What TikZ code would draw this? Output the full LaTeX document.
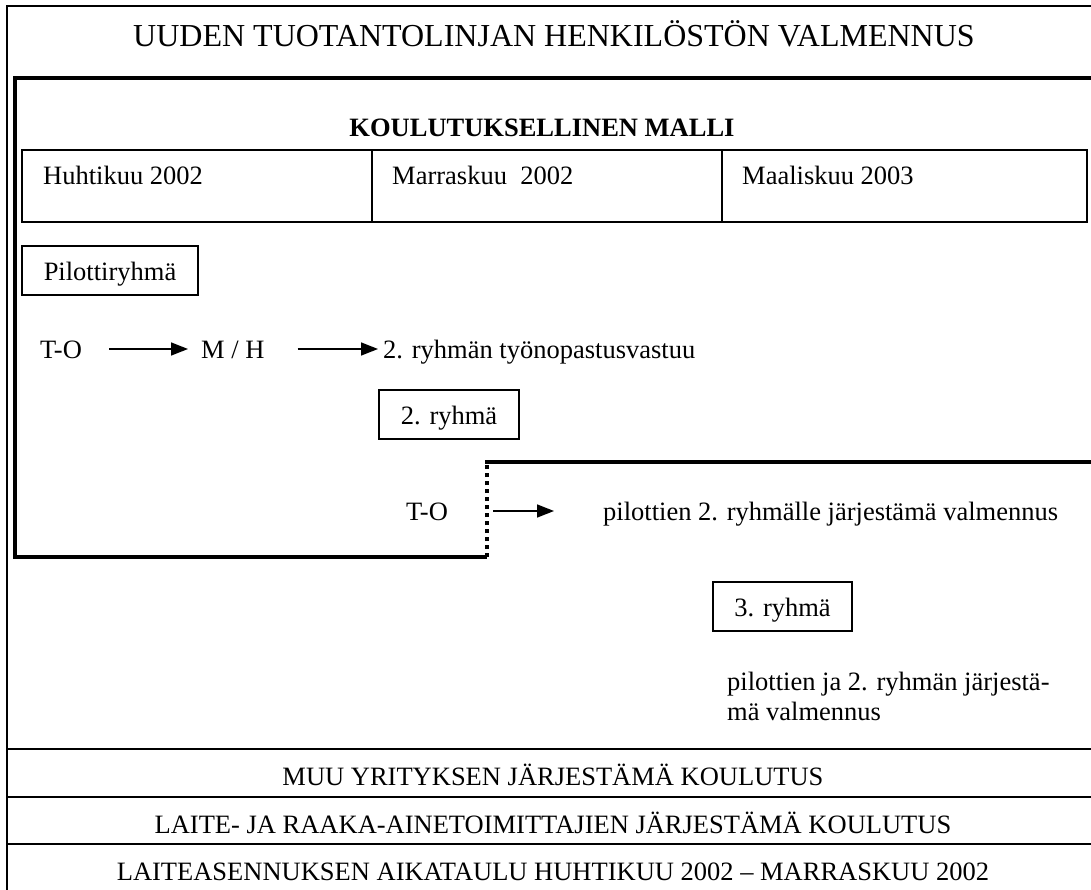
\documentclass[tikz,border=0pt]{standalone}
\usepackage{fontspec}
\setmainfont{Liberation Serif}
\usetikzlibrary{arrows.meta}
\begin{document}
\begin{tikzpicture}[x=1pt,y=-1pt,
  body/.style={font=\fontsize{26.5}{30}\selectfont, inner sep=0pt},
  boldbody/.style={font=\fontsize{26.5}{30}\selectfont\bfseries, inner sep=0pt},
  titlefont/.style={font=\fontsize{32}{36}\selectfont, inner sep=0pt},
  frameline/.style={line width=1.6pt},
  tableline/.style={line width=1.4pt},
  heavyline/.style={line width=4pt, line join=miter},
  dotline/.style={line width=4pt, dash pattern=on 4pt off 4pt},
  groupbox/.style={body, draw, line width=1.5pt, text height=20pt, text depth=0pt},
  flow/.style={line width=1.5pt, -{Triangle[length=17pt,width=13pt]}}]

\useasboundingbox (0,0) rectangle (1091,890);

% outer frame and the three bottom bands
\draw[frameline] (1095,6) -- (7,6) -- (7,892);
\draw[frameline] (7,749) -- (1095,749);
\draw[frameline] (7,797) -- (1095,797);
\draw[frameline] (7,844) -- (1095,844);

\node[titlefont, anchor=base] (title) at (554,47) {UUDEN TUOTANTOLINJAN HENKILÖSTÖN VALMENNUS};

% heavy outline of the training model, with its dotted step
\draw[heavyline] (1095,78) -- (15,78) -- (15,557) -- (487,557);
\draw[dotline] (487,557) -- (487,463);
\draw[heavyline] (485,462) -- (1095,462);

\node[boldbody, anchor=base] (model) at (542,137) {KOULUTUKSELLINEN MALLI};

% timeline table
\draw[tableline] (22,150) rectangle (1087,222);
\draw[tableline] (372,150) -- (372,222);
\draw[tableline] (722,150) -- (722,222);
\node[body, anchor=base west] (apr) at (43,185) {Huhtikuu 2002};
\node[body, anchor=base west] (nov) at (392,185) {Marraskuu\ \ 2002};
\node[body, anchor=base west] (mar) at (742,185) {Maaliskuu 2003};

% pilot group
\node[groupbox, minimum width=176pt, minimum height=49pt] (pilot) at (110,270.5) {Pilottiryhmä};
\node[body, anchor=base west] (to1) at (40,358) {T-O};
\node[body, anchor=base west] (mh) at (201,358) {M / H};
\node[body, anchor=base west] (resp) at (383,358) {2. ryhmän työnopastusvastuu};
\draw[flow] ([xshift=27pt,yshift=9pt]to1.base east) -- ([xshift=-13pt,yshift=9pt]mh.base west);
\draw[flow] ([xshift=33pt,yshift=9pt]mh.base east) -- ([xshift=-5pt,yshift=9pt]resp.base west);

% second group
\node[groupbox, minimum width=140pt, minimum height=49pt] (second) at (449,414.5) {2. ryhmä};
\node[body, anchor=base west] (to2) at (406,520) {T-O};
\coordinate (notch) at (487,511);
\node[body, anchor=base west] (coach2) at (603,520) {pilottien 2. ryhmälle järjestämä valmennus};
\draw[flow] ([xshift=6pt]notch) -- ([xshift=-49pt,yshift=9pt]coach2.base west);

% third group
\node[groupbox, minimum width=139pt, minimum height=49pt] (third) at (782.5,606.5) {3. ryhmä};
\node[body, align=left, anchor=north west] (coach3) at (727,672) {pilottien ja 2. ryhmän järjestä-\\mä valmennus};

% bottom bands
\node[body, anchor=base] (other) at (553,785) {MUU YRITYKSEN JÄRJESTÄMÄ KOULUTUS};
\node[body, anchor=base] (suppliers) at (553,833) {LAITE- JA RAAKA-AINETOIMITTAJIEN JÄRJESTÄMÄ KOULUTUS};
\node[body, anchor=base] (schedule) at (553,880) {LAITEASENNUKSEN AIKATAULU HUHTIKUU 2002 – MARRASKUU 2002};
\end{tikzpicture}
\end{document}
